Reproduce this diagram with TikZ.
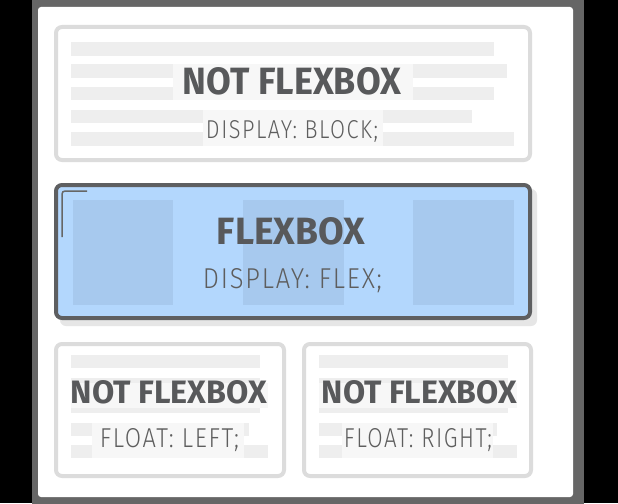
\documentclass[tikz,border=0pt]{standalone}
\usepackage{fontspec}
\usepackage{graphicx}
\newfontfamily\titlefont{Fira Sans}
\newfontfamily\subfont{Fira Sans Light}[LetterSpace=7]
\definecolor{frame}{HTML}{666666}
\definecolor{lightborder}{HTML}{DCDCDC}
\definecolor{bar}{HTML}{EEEEEE}
\definecolor{textbg}{HTML}{F7F7F7}
\definecolor{darkborder}{HTML}{5E5F61}
\definecolor{flexfill}{HTML}{B3D7FD}
\definecolor{flexitem}{HTML}{A7C9EE}
\definecolor{shadow}{HTML}{E6E6E6}
\definecolor{titlecol}{HTML}{58595B}
\definecolor{subcol}{HTML}{5E5E5E}
\newcommand\fitbox[3]{\resizebox{#1pt}{#2pt}{#3}}
\begin{document}
\begin{tikzpicture}[x=1pt,y=-1pt,
  lightbox/.style={draw=lightborder,line width=4pt,rounded corners=6pt,fill=white},
  barfill/.style={fill=bar},
  bgfill/.style={fill=textbg},
  titletext/.style={inner sep=0pt,anchor=base,text=titlecol,font=\titlefont\bfseries},
  subtext/.style={inner sep=0pt,anchor=base,text=subcol,font=\subfont}]
\useasboundingbox (0,0) rectangle (618,503);
% background and frame
\fill[black] (0,0) rectangle (618,503);
\fill[frame] (32,-5) rectangle (584,508);
\fill[white,rounded corners=3pt] (38,7) rectangle (573,497);

% ---- top box ----
\draw[lightbox] (56,27) rectangle (530,160);
\fill[barfill] (71,42) rectangle (494,56);
\fill[barfill] (71,64) rectangle (507,78);
\fill[barfill] (71,87) rectangle (494,100);
\fill[barfill] (71,110) rectangle (472,123);
\fill[barfill] (71,132) rectangle (514,146);
\fill[bgfill] (173,64) rectangle (413,100);
\fill[bgfill] (203,110) rectangle (383,146);
\node[titletext] (t1) at (292,95) {\fitbox{218}{27}{NOT FLEXBOX}};
\node[subtext] (s1) at (292,138) {\fitbox{172}{18}{DISPLAY: BLOCK;}};

% ---- flexbox ----
\fill[shadow,rounded corners=6pt] (60,189) rectangle (537,326);
\draw[draw=darkborder,line width=4pt,rounded corners=6pt,fill=flexfill] (56,185) rectangle (530,318);
\fill[flexitem] (73,200) rectangle (173,305);
\fill[flexitem] (243,200) rectangle (344,305);
\fill[flexitem] (413,200) rectangle (514,305);
\draw[frame,line width=1.5pt,rounded corners=3pt] (62,237) -- (62,191) -- (87,191);
\node[titletext] (t2) at (291,244) {\fitbox{148}{27}{FLEXBOX}};
\node[subtext] (s2) at (292.5,288) {\fitbox{179}{20}{DISPLAY: FLEX;}};

% ---- bottom left ----
\draw[lightbox] (56,344) rectangle (284,476);
\fill[barfill] (71,355) rectangle (260,368);
\fill[barfill] (71,378) rectangle (260,391);
\fill[barfill] (71,400) rectangle (260,413);
\fill[bgfill] (71,383) rectangle (268,408);
\fill[barfill] (71,423) rectangle (249,436);
\fill[barfill] (71,445) rectangle (268,458);
\fill[bgfill] (92,423) rectangle (244,458);
\node[titletext] (t3) at (169,403) {\fitbox{196}{23}{NOT FLEXBOX}};
\node[subtext] (s3) at (169.5,447) {\fitbox{139}{19}{FLOAT: LEFT;}};

% ---- bottom right ----
\draw[lightbox] (304,344) rectangle (531,476);
\fill[barfill] (319,355) rectangle (508,368);
\fill[barfill] (319,378) rectangle (508,391);
\fill[barfill] (319,400) rectangle (508,413);
\fill[bgfill] (319,383) rectangle (517,408);
\fill[barfill] (319,423) rectangle (497,436);
\fill[barfill] (319,445) rectangle (517,458);
\fill[bgfill] (342,423) rectangle (493,458);
\node[titletext] (t4) at (419.5,403) {\fitbox{195}{23}{NOT FLEXBOX}};
\node[subtext] (s4) at (418,447) {\fitbox{148}{19}{FLOAT: RIGHT;}};
\end{tikzpicture}
\end{document}
